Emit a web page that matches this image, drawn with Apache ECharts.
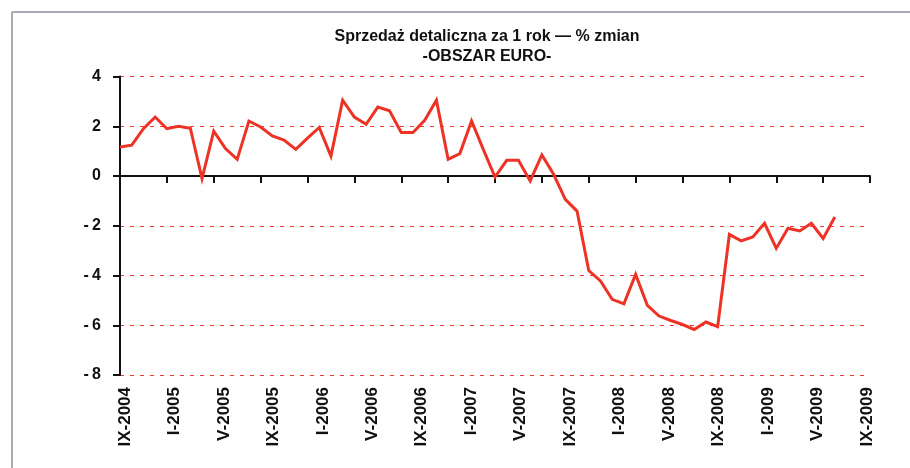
<!DOCTYPE html>
<html>
<head>
<meta charset="utf-8">
<script src="https://cdn.jsdelivr.net/npm/echarts@6/dist/echarts.min.js"></script>
<style>
html,body{margin:0;padding:0;background:#fff;}
#chart{width:910px;height:468px;}
</style>
</head>
<body>
<div id="chart"></div>
<script>
// Monthly categories IX-2004 ... (65 months on the axis)
const romans = ['I','II','III','IV','V','VI','VII','VIII','IX','X','XI','XII'];
const categories = [];
for (let k = 0; k < 65; k++) {
  const m = (8 + k) % 12;
  const y = 2004 + Math.floor((8 + k) / 12);
  categories.push(romans[m] + '-' + y);
}
// Retail sales, % change y/y (euro area)
const retailSales = [1.17,1.24,1.9,2.37,1.9,2.0,1.92,-0.1,1.8,1.1,0.67,2.21,1.97,1.61,1.44,1.07,1.52,1.95,0.8,3.05,2.37,2.08,2.77,2.62,1.75,1.75,2.24,3.05,0.67,0.9,2.21,1.07,-0.04,0.63,0.63,-0.2,0.85,0.07,-0.94,-1.41,-3.8,-4.22,-4.96,-5.14,-3.96,-5.2,-5.63,-5.81,-5.97,-6.17,-5.87,-6.06,-2.35,-2.61,-2.45,-1.9,-2.91,-2.1,-2.21,-1.9,-2.51,-1.65];
// Axis tick labels
const tickLabels = ['IX-2004','I-2005','V-2005','IX-2005','I-2006','V-2006','IX-2006','I-2007','V-2007','IX-2007','I-2008','V-2008','IX-2008','I-2009','V-2009','IX-2009'];
const yMin = -8, yMax = 4, yStep = 2;

const chart = echarts.init(document.getElementById('chart'), null, {renderer:'canvas'});
const FONT = '"Liberation Sans", Arial, sans-serif';
chart.setOption({
  backgroundColor: '#ffffff',
  animation: false,
  title: {
    text: 'Sprzedaż detaliczna za 1 rok — % zmian\n-OBSZAR EURO-',
    left: 482,
    top: 22,
    textAlign: 'center',
    textStyle: {fontFamily: FONT, fontSize: 16, fontWeight: 'bold', color: '#111', lineHeight: 20}
  },
  graphic: [
    {type:'line', shape:{x1:12, y1:12, x2:910, y2:12}, style:{stroke:'#ababb3', lineWidth:2}, silent:true},
    {type:'line', shape:{x1:12, y1:12, x2:12, y2:468}, style:{stroke:'#ababb3', lineWidth:2}, silent:true}
  ],
  grid: [
    {left:120, right:40, top:76.5, bottom:93, containLabel:false},
    {left:125, right:43, top:76.5, bottom:93, containLabel:false}
  ],
  xAxis: [
    {
      type:'category', gridIndex:0, data:categories, boundaryGap:false,
      axisLine:{show:true, onZero:true, lineStyle:{color:'#111', width:2}},
      axisTick:{show:true, interval:3, length:7, lineStyle:{color:'#111', width:2}},
      axisLabel:{show:false},
      splitLine:{show:false}
    },
    {
      type:'category', gridIndex:1, data:tickLabels, boundaryGap:false, position:'bottom',
      axisLine:{show:false, onZero:false},
      axisTick:{show:false},
      axisLabel:{show:true, interval:0, rotate:90, margin:12, fontFamily:FONT, fontSize:17, fontWeight:'bold', color:'#111'},
      splitLine:{show:false}
    }
  ],
  yAxis: [
    {
      type:'value', gridIndex:0, min:yMin, max:yMax, interval:yStep,
      axisLine:{show:true, lineStyle:{color:'#111', width:2}},
      axisTick:{show:true, length:7, lineStyle:{color:'#111', width:2}},
      axisLabel:{margin:19, fontFamily:FONT, fontSize:16, fontWeight:'bold', color:'#111',
        formatter: function (v) { return v < 0 ? '-\u2009' + Math.abs(v) : String(v); }},
      splitLine:{show:true, lineStyle:{color:'#ee3a30', width:1.2, type:[4,6]}}
    },
    {type:'value', gridIndex:1, show:false, min:0, max:1}
  ],
  series: [
    {
      type:'line', xAxisIndex:0, yAxisIndex:0, data:retailSales,
      symbol:'none', smooth:false,
      lineStyle:{color:'#ee3326', width:3, join:'miter'}
    }
  ]
});
</script>
</body>
</html>
